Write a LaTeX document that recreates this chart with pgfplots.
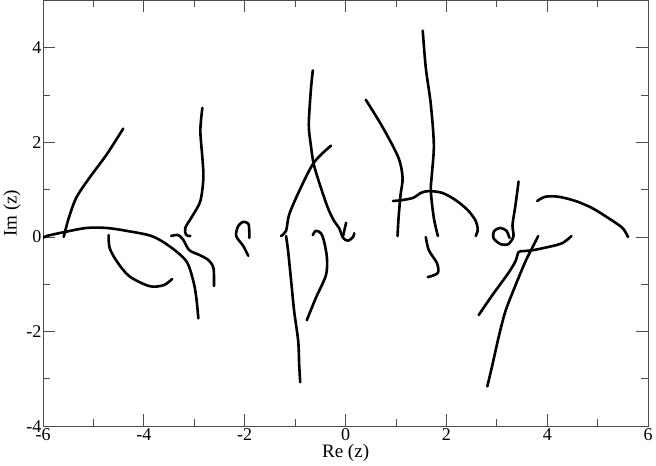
\documentclass[border=0pt]{standalone}
\usepackage{pgfplots}
\pgfplotsset{compat=1.18}
\usepackage{fontspec}
\setmainfont{Liberation Serif}
\tikzset{cur/.style={black, line width=2.6pt, smooth, tension=0.5, mark=none, line cap=round, line join=round}}
\begin{document}
\begin{tikzpicture}
\begin{axis}[
  scale only axis, width=604pt, height=425pt,
  xmin=-6, xmax=6, ymin=-4, ymax=5,
  xtick={-6,-4,...,6}, ytick={-4,-2,...,4},
  minor x tick num=1, minor y tick num=1,
  tick align=inside, major tick length=12pt, minor tick length=7pt,
  axis line style={black!70, line width=0.8pt},
  every tick/.style={black!70, line width=0.8pt},
  /pgf/number format/assume math mode=true,
  tick label style={font=\fontsize{18}{21}\selectfont},
  yticklabel style={xshift=2pt},
  xticklabel style={yshift=1pt},
  label style={font=\fontsize{19}{22}\selectfont},
  xlabel={Re (z)}, ylabel={Im (z)},
  xlabel style={yshift=3pt}, ylabel style={yshift=-1pt},
]
% A
\addplot[cur] coordinates {(-5.99,-0.02) (-5.93,0.02) (-5.59,0.10) (-5.14,0.19) (-4.74,0.19) (-4.35,0.13) (-3.85,0.02) (-3.50,-0.19) (-3.16,-0.51) (-3.02,-0.93) (-2.96,-1.29) (-2.92,-1.72)};
% B
\addplot[cur] coordinates {(-5.59,0) (-5.49,0.40) (-5.34,0.83) (-5.08,1.25) (-4.74,1.74) (-4.41,2.29)};
% C
\addplot[cur] coordinates {(-4.70,0.04) (-4.68,-0.23) (-4.54,-0.51) (-4.29,-0.83) (-3.89,-1.04) (-3.61,-1.02) (-3.44,-0.89)};
% D
\addplot[cur] coordinates {(-2.84,2.73) (-2.88,2.25) (-2.84,1.67) (-2.82,1.25) (-2.88,0.76) (-3.04,0.44) (-3.18,0.19) (-3.16,0.04) (-3.08,0.02)};
% E
\addplot[cur] coordinates {(-3.46,0.02) (-3.32,0.04) (-3.22,-0.06) (-3.10,-0.28) (-2.90,-0.38) (-2.72,-0.49) (-2.62,-0.66) (-2.61,-1.04)};
% F
\addplot[cur] coordinates {(-1.93,-0.40) (-2.03,-0.19) (-2.17,0.02) (-2.13,0.23) (-2.03,0.32) (-1.93,0.28) (-1.91,0.13) (-1.91,-0.02)};
% G
\addplot[cur] coordinates {(-0.65,3.52) (-0.69,3.09) (-0.73,2.37) (-0.69,1.95) (-0.63,1.53) (-0.49,1.04) (-0.35,0.61) (-0.23,0.34) (-0.13,0.19) (-0.05,-0.02) (0.05,-0.08) (0.15,0) (0.17,0.08)};
\addplot[cur] coordinates {(0.01,0.30) (-0.05,0.02)};
% H
\addplot[cur] coordinates {(-1.28,0.02) (-1.18,0.13) (-1.12,0.47) (-0.92,0.97) (-0.63,1.57) (-0.29,1.93)};
% I
\addplot[cur] coordinates {(-1.18,0.02) (-1.14,-0.30) (-1.08,-0.93) (-1.02,-1.57) (-0.94,-2.20) (-0.92,-2.71) (-0.90,-3.07)};
% J
\addplot[cur] coordinates {(-0.65,0.04) (-0.59,0.13) (-0.49,0.08) (-0.43,-0.08) (-0.37,-0.44) (-0.39,-0.81) (-0.59,-1.29) (-0.77,-1.76)};
% K
\addplot[cur] coordinates {(0.40,2.90) (0.74,2.31) (1.05,1.67) (1.13,1.25) (1.09,0.89) (1.05,0.40) (1.03,0.02)};
% L
\addplot[cur] coordinates {(1.53,4.36) (1.59,3.58) (1.69,2.80) (1.75,1.95) (1.71,1.31) (1.69,0.97) (1.75,0.40) (1.83,0.02)};
% M
\addplot[cur] coordinates {(0.94,0.76) (1.13,0.78) (1.35,0.83) (1.49,0.93) (1.65,0.97) (1.92,0.93) (2.18,0.78) (2.42,0.57) (2.58,0.34) (2.62,0.15) (2.58,0.02)};
% N
\addplot[cur] coordinates {(1.59,0) (1.65,-0.28) (1.81,-0.55) (1.83,-0.76) (1.63,-0.85)};
% O
\addplot[cur] coordinates {(3.43,1.17) (3.37,0.68) (3.31,0.25) (3.33,0.02) (3.23,-0.15) (3.07,-0.15) (2.93,-0.02) (2.95,0.13) (3.07,0.19) (3.19,0.13) (3.25,-0.02)};
% P
\addplot[cur] coordinates {(3.80,0.76) (3.96,0.85) (4.22,0.85) (4.56,0.76) (4.89,0.61) (5.21,0.40) (5.49,0.19) (5.60,0)};
% Q
\addplot[cur] coordinates {(2.64,-1.65) (2.91,-1.23) (3.23,-0.76) (3.37,-0.51) (3.43,-0.32) (3.53,-0.30) (3.71,-0.28) (4.03,-0.21) (4.30,-0.13) (4.48,0.02)};
% R
\addplot[cur] coordinates {(2.81,-3.16) (2.91,-2.71) (3.03,-2.14) (3.17,-1.57) (3.37,-1.02) (3.57,-0.51) (3.73,-0.17) (3.82,0.02)};
\end{axis}
\end{tikzpicture}
\end{document}
